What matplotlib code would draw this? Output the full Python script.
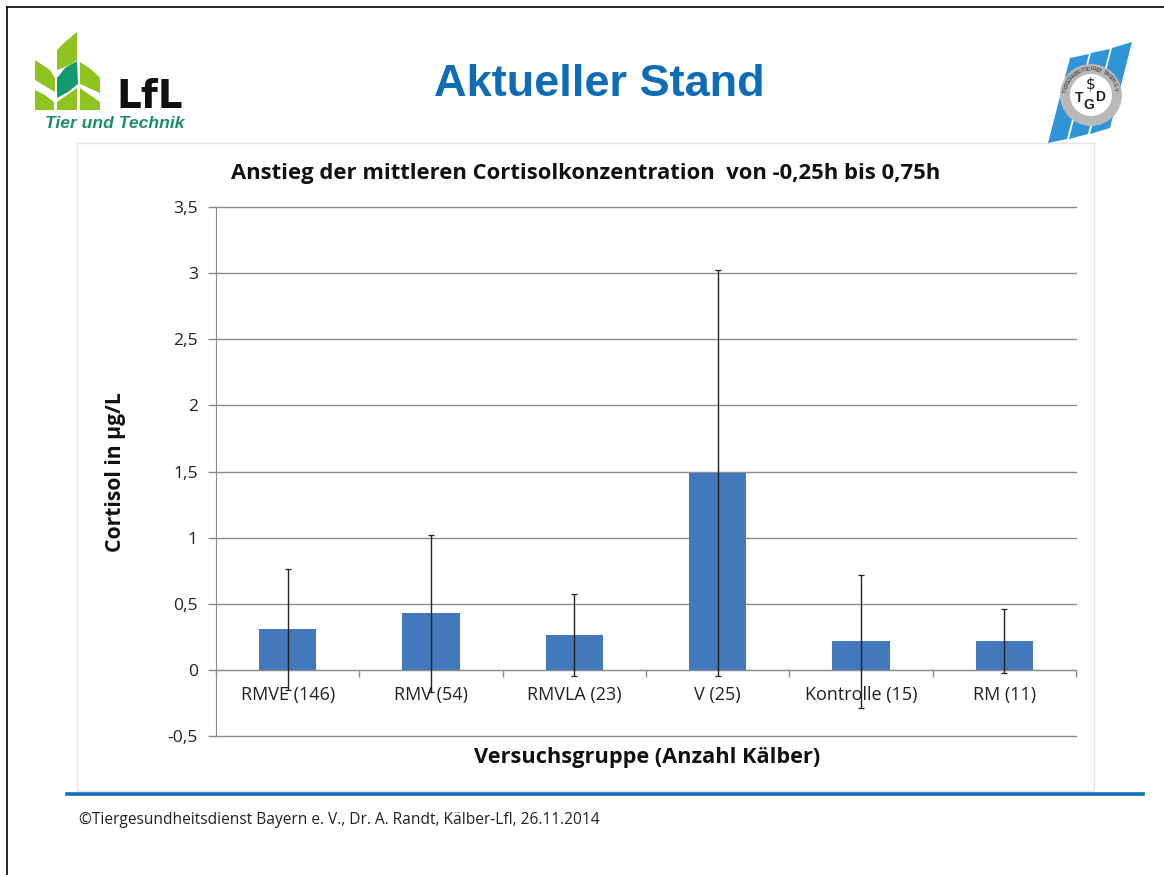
import math
import matplotlib
matplotlib.use('Agg')
import matplotlib.pyplot as plt
from matplotlib.patches import Polygon, Rectangle, Circle

plt.rcParams['font.family'] = ['Open Sans', 'DejaVu Sans']

# Chart data
groups = ['RMVE (146)', 'RMV (54)', 'RMVLA (23)', 'V (25)', 'Kontrolle (15)', 'RM (11)']
means = [0.31, 0.43, 0.26, 1.49, 0.22, 0.22]
err_top = [0.76, 1.02, 0.57, 3.02, 0.72, 0.46]
err_bottom = [-0.15, -0.17, -0.05, -0.05, -0.29, -0.02]
y_ticks = [-0.5, 0, 0.5, 1, 1.5, 2, 2.5, 3, 3.5]
y_labels = ['-0,5', '0', '0,5', '1', '1,5', '2', '2,5', '3', '3,5']

W, H = 1164, 875
fig = plt.figure(figsize=(W / 100, H / 100), dpi=100)

# Page layer in pixel coordinates
bg = fig.add_axes([0, 0, 1, 1])
bg.set_xlim(0, W)
bg.set_ylim(H, 0)
bg.axis('off')

# Slide border and footer
bg.plot([7, 7], [875, 7], color='black', lw=1.2)
bg.plot([7, 1164], [7, 7], color='black', lw=1.2)
bg.add_patch(Rectangle((77, 143), 1017, 648, fc='white', ec='#e4e4e4', lw=1))
bg.plot([67, 1143], [793.5, 793.5], color='#0f6fb8', lw=2.6)
bg.text(79, 820.5, '©Tiergesundheitsdienst Bayern e. V., Dr. A. Randt, Kälber-Lfl, 26.11.2014',
        fontsize=11.2, color='#222222', va='center', ha='left')
bg.text(599, 85, 'Aktueller Stand', fontsize=32.5, fontweight='bold', color='#0f6cb6',
        family='Liberation Sans', ha='center', va='center')

# LfL logo
light = '#8fc31f'
for pts in [[(57, 70), (57, 50), (65, 42), (77, 32), (77, 60), (70, 65)],
            [(35, 60), (50, 70), (55, 78), (55, 92), (35, 80)],
            [(80, 62), (92, 70), (100, 78), (100, 93), (80, 84)],
            [(35, 90), (45, 95), (54, 102), (54, 110), (35, 110)],
            [(57, 110), (57, 102), (77, 88), (77, 110)],
            [(80, 88), (100, 102), (100, 110), (80, 110)]]:
    bg.add_patch(Polygon(pts, fc=light, ec='none'))
bg.add_patch(Polygon([(57, 98), (57, 78), (65, 68), (77, 61), (78, 84), (68, 92)], fc='#0f9a70', ec='none'))
bg.text(116, 97, 'LfL', fontsize=28, fontweight='bold', color='#111111', family='DejaVu Sans',
        va='center', ha='left')
bg.text(45, 124, 'Tier und Technik', fontsize=12.6, fontweight='bold', style='italic',
        color='#1a8f6a', family='Liberation Sans', va='center', ha='left')

# TGD logo
for pts in [[(1048, 143), (1070, 58), (1089, 54), (1067, 139)],
            [(1069, 139), (1091, 53), (1110, 49), (1088, 134)],
            [(1090, 134), (1112, 48), (1132, 42), (1110, 128)]]:
    bg.add_patch(Polygon(pts, fc='#2f95d6', ec='none'))
bg.add_patch(Circle((1091, 95), 31, fc='#b9b9b9', ec='none'))
bg.add_patch(Circle((1091, 95), 21, fc='white', ec='none'))
ring_text = 'TIERGESUNDHEITSDIENST BAYERN E.V.'
for i, ch in enumerate(ring_text):
    a = math.radians(-172 + i * 164 / (len(ring_text) - 1))
    bg.text(1091 + 26 * math.cos(a), 95 + 26 * math.sin(a), ch, fontsize=3.6, color='#333333',
            family='Liberation Sans', rotation=-math.degrees(a) - 90, ha='center', va='center')
bg.text(1091, 84, '$', fontsize=11, color='#222222', family='DejaVu Sans', ha='center', va='center')
bg.text(1079, 98, 'T', fontsize=10, fontweight='bold', color='#222222',
        family='Liberation Sans', ha='center', va='center')
bg.text(1089, 105, 'G', fontsize=10, fontweight='bold', color='#222222',
        family='Liberation Sans', ha='center', va='center')
bg.text(1100, 97, 'D', fontsize=10, fontweight='bold', color='#222222',
        family='Liberation Sans', ha='center', va='center')

# Chart
left, right, top, bottom = 216, 1076, 207, 736
ax = fig.add_axes([left / W, 1 - bottom / H, (right - left) / W, (bottom - top) / H])
ax.patch.set_alpha(0)
x = list(range(len(groups)))
lower = [m - b for m, b in zip(means, err_bottom)]
upper = [t - m for m, t in zip(means, err_top)]
ax.bar(x, means, width=0.4, color='#4379bc', zorder=2)
ax.errorbar(x, means, yerr=[lower, upper], fmt='none', ecolor='#222222', elinewidth=1,
            capsize=2.5, capthick=0.9, zorder=3)
ax.set_xlim(-0.5, 5.5)
ax.set_ylim(-0.5, 3.5)
ax.set_yticks(y_ticks)
ax.set_yticklabels(y_labels, fontsize=12.6, color='#222222')
ax.grid(axis='y', color='#8c8c8c', lw=1, zorder=1)
for line in ax.get_ygridlines():
    line.set_clip_on(False)
ax.set_axisbelow(True)
ax.tick_params(axis='y', length=6, color='#8c8c8c', width=1, pad=7)

for side in ['top', 'right']:
    ax.spines[side].set_visible(False)
ax.spines['left'].set_color('#8c8c8c')
ax.spines['bottom'].set_position(('data', 0))
ax.spines['bottom'].set_color('#8c8c8c')
ax.set_xticks([i - 0.5 for i in range(7)])
ax.set_xticklabels([])
ax.tick_params(axis='x', length=5, color='#8c8c8c', width=1, direction='out')
for i, g in enumerate(groups):
    ax.text(i, -0.19, g, fontsize=13, color='#222222', ha='center', va='center', zorder=4)

bg.text(586, 173.5, 'Anstieg der mittleren Cortisolkonzentration  von -0,25h bis 0,75h',
        fontsize=15.8, fontweight='bold', color='#111111', ha='center', va='center')
bg.text(647, 757, 'Versuchsgruppe (Anzahl Kälber)', fontsize=15.7, fontweight='bold',
        color='#111111', ha='center', va='center')
bg.text(116, 472, 'Cortisol in µg/L', fontsize=15.2, fontweight='bold', color='#111111',
        rotation=90, ha='center', va='center')

fig.savefig('out.png', dpi=100)
